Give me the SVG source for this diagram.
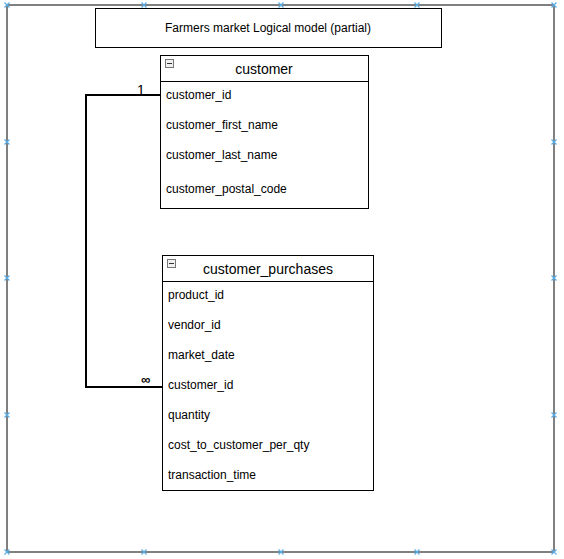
<svg xmlns="http://www.w3.org/2000/svg" width="564" height="559" viewBox="0 0 564 559">
  <defs>
    <style>
      text { font-family: "Liberation Sans", Arial, sans-serif; fill: #000; }
      .row { font-size: 12px; }
      .head { font-size: 14px; text-anchor: middle; }
      .box { fill: #fff; stroke: #000; stroke-width: 1; }
      .mark { stroke: #5aaee8; stroke-width: 1.2; }
      .link { fill: none; stroke: #000; stroke-width: 2; }
    </style>
    <g id="xmark">
      <path class="mark" d="M-2.5,-2.5 L2.5,2.5 M-2.5,2.5 L2.5,-2.5"/>
    </g>
    <g id="fold">
      <rect x="0.5" y="0.5" width="8" height="8" fill="#f0f0f0" stroke="#777" stroke-width="1"/>
      <line x1="2" y1="4.5" x2="7" y2="4.5" stroke="#333" stroke-width="1"/>
    </g>
  </defs>

  <rect width="564" height="559" fill="#fff"/>

  <!-- page frame -->
  <g id="frame">
    <line x1="7" y1="5" x2="554" y2="5" stroke="#000" stroke-width="1"/>
    <line x1="7" y1="5" x2="7" y2="552" stroke="#000" stroke-width="1"/>
    <line x1="554" y1="5" x2="554" y2="552" stroke="#808080" stroke-width="2"/>
    <line x1="7" y1="552" x2="554" y2="552" stroke="#808080" stroke-width="2"/>
    <use href="#xmark" x="7" y="5"/>
    <use href="#xmark" x="144" y="5"/>
    <use href="#xmark" x="281" y="5"/>
    <use href="#xmark" x="417" y="5"/>
    <use href="#xmark" x="554" y="5"/>
    <use href="#xmark" x="7" y="142"/>
    <use href="#xmark" x="7" y="278"/>
    <use href="#xmark" x="7" y="415"/>
    <use href="#xmark" x="554" y="142"/>
    <use href="#xmark" x="554" y="278"/>
    <use href="#xmark" x="554" y="415"/>
    <use href="#xmark" x="7" y="552"/>
    <use href="#xmark" x="144" y="552"/>
    <use href="#xmark" x="281" y="552"/>
    <use href="#xmark" x="417" y="552"/>
    <use href="#xmark" x="554" y="552"/>
  </g>

  <!-- title -->
  <g id="title">
    <rect class="box" x="95.5" y="8.5" width="346" height="39"/>
    <text x="268" y="32" font-size="12" text-anchor="middle">Farmers market Logical model (partial)</text>
  </g>

  <!-- relationship -->
  <g id="connectors">
    <path class="link" d="M160,95 H86 V387 H162"/>
    <text x="137" y="95" font-size="14">1</text>
    <text x="141" y="384" font-size="13" font-weight="bold">∞</text>
  </g>

  <!-- customer table -->
  <g id="customer">
    <rect class="box" x="160.5" y="55.5" width="208" height="153"/>
    <line x1="160.5" y1="81.5" x2="368.5" y2="81.5" stroke="#000"/>
    <use href="#fold" x="165" y="59"/>
    <text class="head" x="264" y="74">customer</text>
    <text class="row" x="166" y="99">customer_id</text>
    <text class="row" x="166" y="129">customer_first_name</text>
    <text class="row" x="166" y="159">customer_last_name</text>
    <text class="row" x="166" y="193">customer_postal_code</text>
  </g>

  <!-- customer_purchases table -->
  <g id="customer_purchases">
    <rect class="box" x="162.5" y="255.5" width="211" height="235"/>
    <line x1="162.5" y1="281.5" x2="373.5" y2="281.5" stroke="#000"/>
    <use href="#fold" x="167" y="259"/>
    <text class="head" x="268" y="274">customer_purchases</text>
    <text class="row" x="168" y="299">product_id</text>
    <text class="row" x="168" y="329">vendor_id</text>
    <text class="row" x="168" y="359">market_date</text>
    <text class="row" x="168" y="389">customer_id</text>
    <text class="row" x="168" y="419">quantity</text>
    <text class="row" x="168" y="449">cost_to_customer_per_qty</text>
    <text class="row" x="168" y="479">transaction_time</text>
  </g>
</svg>
